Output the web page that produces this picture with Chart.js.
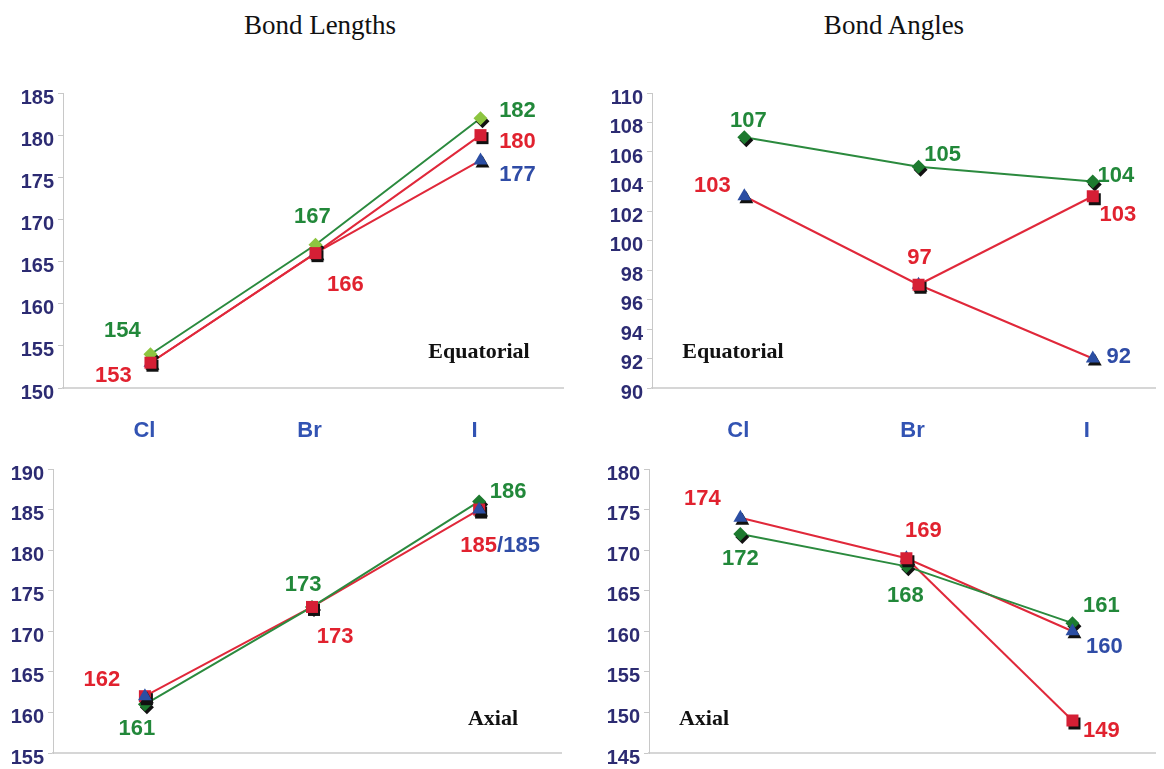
<!DOCTYPE html>
<html>
<head>
<meta charset="utf-8">
<script src="https://cdn.jsdelivr.net/npm/chart.js@4.4.1/dist/chart.umd.min.js"></script>
<style>
    body { margin: 0; width: 1164px; height: 769px; overflow: hidden; background: #fff; position: relative; }
    .panel { position: absolute; }
    .title { position: absolute; font-family: 'Liberation Serif', 'Times New Roman', serif; font-size: 27px; color: #111; transform: translate(-50%, -50%); white-space: nowrap; }
    .tag { position: absolute; font-family: 'Liberation Serif', 'Times New Roman', serif; font-weight: bold; font-size: 22px; color: #111; transform: translate(-50%, -50%); white-space: nowrap; }
</style>
</head>
<body>
<div class="title" style="left:320px; top:25px;">Bond Lengths</div>
<div class="title" style="left:894px; top:25px;">Bond Angles</div>

<div class="panel" style="left:0; top:60px; width:580px; height:390px;"><canvas id="lenEq"></canvas></div>
<div class="panel" style="left:580px; top:60px; width:584px; height:390px;"><canvas id="angEq"></canvas></div>
<div class="panel" style="left:0; top:440px; width:580px; height:329px;"><canvas id="lenAx"></canvas></div>
<div class="panel" style="left:580px; top:440px; width:584px; height:329px;"><canvas id="angAx"></canvas></div>

<div class="tag" style="left:479px; top:351px;">Equatorial</div>
<div class="tag" style="left:733px; top:351px;">Equatorial</div>
<div class="tag" style="left:493px; top:718px;">Axial</div>
<div class="tag" style="left:704px; top:718px;">Axial</div>

<script>
const categories = ['Cl', 'Br', 'I'];

// bond lengths, equatorial
const lenEqGreen = [154, 167, 182];
const lenEqRed = [153, 166, 180];
const lenEqBlue = [153, 166, 177];
const lenEqTicks = [150, 155, 160, 165, 170, 175, 180, 185];

// bond angles, equatorial
const angEqGreen = [107, 105, 104];
const angEqRed = [null, 97, 103];
const angEqBlue = [103, 97, 92];
const angEqTicks = [90, 92, 94, 96, 98, 100, 102, 104, 106, 108, 110];

// bond lengths, axial
const lenAxGreen = [161, 173, 186];
const lenAxRed = [162, 173, 185];
const lenAxBlue = [162, null, 185];
const lenAxTicks = [155, 160, 165, 170, 175, 180, 185, 190];

// bond angles, axial
const angAxGreen = [172, 168, 161];
const angAxRed = [null, 169, 149];
const angAxBlue = [174, 169, 160];
const angAxTicks = [145, 150, 155, 160, 165, 170, 175, 180];

const GREEN_LINE = '#2b8a3e';
const GREEN_LIGHT = '#8dc540';
const GREEN_DARK = '#1d7a2f';
const RED_LINE = '#e0283a';
const RED_MARK = '#d51f35';
const BLUE_MARK = '#2b4ea3';
const TXT_GREEN = '#22883a';
const TXT_RED = '#e1222f';
const TXT_BLUE = '#2f4ca6';

// labels next to the points: which series, which category, offset, colour
const pointLabels = {
    lenEq: [
        { s: lenEqGreen, i: 0, dx: -28, dy: -23, c: TXT_GREEN },
        { s: lenEqRed, i: 0, dx: -37, dy: 13, c: TXT_RED },
        { s: lenEqGreen, i: 1, dx: -3, dy: -28, c: TXT_GREEN },
        { s: lenEqRed, i: 1, dx: 30, dy: 32, c: TXT_RED },
        { s: lenEqGreen, i: 2, dx: 37, dy: -7, c: TXT_GREEN },
        { s: lenEqRed, i: 2, dx: 37, dy: 7, c: TXT_RED },
        { s: lenEqBlue, i: 2, dx: 37, dy: 15, c: TXT_BLUE },
    ],
    angEq: [
        { s: angEqGreen, i: 0, dx: 4, dy: -16, c: TXT_GREEN },
        { s: angEqGreen, i: 1, dx: 24, dy: -12, c: TXT_GREEN },
        { s: angEqGreen, i: 2, dx: 23, dy: -6, c: TXT_GREEN },
        { s: angEqBlue, i: 0, dx: -32, dy: -10, c: TXT_RED },
        { s: angEqRed, i: 1, dx: 1, dy: -27, c: TXT_RED },
        { s: angEqRed, i: 2, dx: 25, dy: 19, c: TXT_RED },
        { s: angEqBlue, i: 2, dx: 26, dy: -2, c: TXT_BLUE },
    ],
    lenAx: [
        { s: lenAxGreen, i: 0, dx: -8, dy: 25, c: TXT_GREEN },
        { s: lenAxRed, i: 0, dx: -43, dy: -16, c: TXT_RED },
        { s: lenAxGreen, i: 1, dx: -9, dy: -22, c: TXT_GREEN },
        { s: lenAxRed, i: 1, dx: 23, dy: 30, c: TXT_RED },
        { s: lenAxGreen, i: 2, dx: 29, dy: -10, c: TXT_GREEN },
        { parts: [[lenAxRed, TXT_RED], ['/', TXT_BLUE], [lenAxBlue, TXT_BLUE]], s: lenAxRed, i: 2, dx: 21, dy: 36 },
    ],
    angAx: [
        { s: angAxBlue, i: 0, dx: -38, dy: -19, c: TXT_RED },
        { s: angAxGreen, i: 0, dx: 0, dy: 25, c: TXT_GREEN },
        { s: angAxRed, i: 1, dx: 17, dy: -27, c: TXT_RED },
        { s: angAxGreen, i: 1, dx: -1, dy: 30, c: TXT_GREEN },
        { s: angAxGreen, i: 2, dx: 29, dy: -17, c: TXT_GREEN },
        { s: angAxBlue, i: 2, dx: 32, dy: 16, c: TXT_BLUE },
        { s: angAxRed, i: 2, dx: 29, dy: 10, c: TXT_RED },
    ],
};

const markShadow = {
    id: 'markShadow',
    beforeDatasetDraw(chart, args) {
        if (!chart.data.datasets[args.index].shadow) return;
        const ctx = chart.ctx;
        ctx.save();
        ctx.shadowColor = '#111';
        ctx.shadowOffsetX = 2;
        ctx.shadowOffsetY = 3;
        ctx.shadowBlur = 0;
    },
    afterDatasetDraw(chart, args) {
        if (chart.data.datasets[args.index].shadow) chart.ctx.restore();
    },
};

const valueLabels = {
    id: 'valueLabels',
    afterDatasetsDraw(chart) {
        const items = pointLabels[chart.canvas.id] || [];
        const ctx = chart.ctx;
        const xs = chart.scales.x, ys = chart.scales.y;
        ctx.save();
        ctx.font = 'bold 22px Arial, "Liberation Sans", sans-serif';
        ctx.textBaseline = 'middle';
        items.forEach(it => {
            const px = xs.getPixelForValue(it.i) + it.dx;
            const py = ys.getPixelForValue(it.s[it.i]) + it.dy;
            if (it.parts) {
                const texts = it.parts.map(p => [typeof p[0] === 'string' ? p[0] : String(p[0][it.i]), p[1]]);
                const total = texts.reduce((w, t) => w + ctx.measureText(t[0]).width, 0);
                let x = px - total / 2;
                ctx.textAlign = 'left';
                texts.forEach(t => {
                    ctx.fillStyle = t[1];
                    ctx.fillText(t[0], x, py);
                    x += ctx.measureText(t[0]).width;
                });
            } else {
                ctx.textAlign = 'center';
                ctx.fillStyle = it.c;
                ctx.fillText(String(it.s[it.i]), px, py);
            }
        });
        ctx.restore();
    },
};

function toPoints(values) {
    return values.map((v, i) => ({ x: i, y: v }));
}

function buildPanel(id, p) {
    const datasets = [];
    p.series.forEach(s => {
        if (s.line) {
            datasets.push({
                data: toPoints(s.values),
                borderColor: s.line,
                borderWidth: 2,
                pointRadius: 0,
                fill: false,
                order: 100,
            });
        }
        datasets.push({
            data: toPoints(s.values),
            showLine: false,
            pointStyle: s.style,
            pointRadius: s.radius,
            pointBackgroundColor: s.mark,
            pointBorderColor: s.mark,
            pointBorderWidth: 0,
            shadow: true,
            order: s.layer,
        });
    });

    new Chart(document.getElementById(id), {
        type: 'line',
        data: { datasets },
        options: {
            responsive: true,
            maintainAspectRatio: false,
            animation: false,
            layout: { padding: { top: p.padTop, right: p.padRight, left: 0, bottom: 0 } },
            plugins: { legend: { display: false }, tooltip: { enabled: false } },
            scales: {
                x: {
                    type: 'linear',
                    min: p.xMin,
                    max: p.xMax,
                    afterBuildTicks: a => { a.ticks = categories.map((c, i) => ({ value: i })); },
                    afterFit: a => { a.height = p.xHeight; a.paddingLeft = 0; a.paddingRight = 0; },
                    grid: { display: false, drawTicks: false },
                    border: { display: true, color: '#d6d6d6', width: 2 },
                    ticks: {
                        display: p.showCats,
                        callback: v => categories[v],
                        color: '#3253b3',
                        font: { family: 'Arial, "Liberation Sans", sans-serif', size: 22, weight: 'bold' },
                        padding: 30,
                        labelOffset: -6,
                        maxRotation: 0,
                    },
                },
                y: {
                    min: p.ticks[0],
                    max: p.ticks[p.ticks.length - 1],
                    afterBuildTicks: a => { a.ticks = p.ticks.map(v => ({ value: v })); },
                    afterFit: a => { a.width = p.yWidth; },
                    grid: { display: true, drawOnChartArea: false, drawTicks: true, tickLength: 5, color: '#c8c8c8' },
                    border: { display: true, color: '#c8c8c8', width: 1 },
                    ticks: {
                        color: '#2c2b72',
                        font: { family: 'Arial, "Liberation Sans", sans-serif', size: 20, weight: 'bold' },
                        padding: 4,
                        labelOffset: 5,
                    },
                },
            },
        },
        plugins: [markShadow, valueLabels],
    });
}

buildPanel('lenEq', {
    ticks: lenEqTicks, xMin: -0.53, xMax: 2.5, yWidth: 63, xHeight: 62, padTop: 33, padRight: 17, showCats: true,
    series: [
        { values: lenEqGreen, line: GREEN_LINE, mark: GREEN_LIGHT, style: 'rectRot', radius: 7, layer: 1 },
        { values: lenEqRed, line: RED_LINE, mark: RED_MARK, style: 'rect', radius: 8.5, layer: 0 },
        { values: lenEqBlue, line: RED_LINE, mark: BLUE_MARK, style: 'triangle', radius: 8, layer: 2 },
    ],
});

buildPanel('angEq', {
    ticks: angEqTicks, xMin: -0.53, xMax: 2.36, yWidth: 72, xHeight: 62, padTop: 33, padRight: 1, showCats: true,
    series: [
        { values: angEqGreen, line: GREEN_LINE, mark: GREEN_DARK, style: 'rectRot', radius: 7, layer: 2 },
        { values: angEqRed, line: RED_LINE, mark: RED_MARK, style: 'rect', radius: 8.5, layer: 0 },
        { values: angEqBlue, line: RED_LINE, mark: BLUE_MARK, style: 'triangle', radius: 8, layer: 1 },
    ],
});

buildPanel('lenAx', {
    ticks: lenAxTicks, xMin: -0.55, xMax: 2.49, yWidth: 53, xHeight: 15, padTop: 29, padRight: 19, showCats: false,
    series: [
        { values: lenAxGreen, line: GREEN_LINE, mark: GREEN_DARK, style: 'rectRot', radius: 7, layer: 2 },
        { values: lenAxRed, line: RED_LINE, mark: RED_MARK, style: 'rect', radius: 8.5, layer: 1 },
        { values: lenAxBlue, line: null, mark: BLUE_MARK, style: 'triangle', radius: 8, layer: 0 },
    ],
});

buildPanel('angAx', {
    ticks: angAxTicks, xMin: -0.55, xMax: 2.5, yWidth: 69, xHeight: 15, padTop: 29, padRight: 2, showCats: false,
    series: [
        { values: angAxGreen, line: GREEN_LINE, mark: GREEN_DARK, style: 'rectRot', radius: 7, layer: 2 },
        { values: angAxRed, line: RED_LINE, mark: RED_MARK, style: 'rect', radius: 8.5, layer: 0 },
        { values: angAxBlue, line: RED_LINE, mark: BLUE_MARK, style: 'triangle', radius: 8, layer: 1 },
    ],
});
</script>
</body>
</html>
